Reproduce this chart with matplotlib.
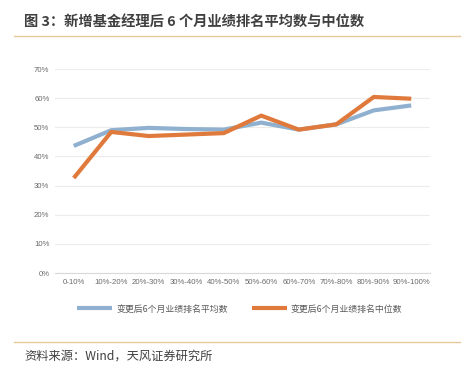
import matplotlib.pyplot as plt
from matplotlib.ticker import FuncFormatter

plt.rcParams['font.family'] = ['Noto Sans CJK SC', 'DejaVu Sans']

# Data
categories = ['0-10%', '10%-20%', '20%-30%', '30%-40%', '40%-50%',
              '50%-60%', '60%-70%', '70%-80%', '80%-90%', '90%-100%']
mean_rank = [43.6, 49.0, 49.8, 49.4, 49.2, 51.6, 49.2, 51.0, 55.8, 57.5]
median_rank = [32.6, 48.4, 47.0, 47.5, 48.0, 54.0, 49.2, 51.0, 60.4, 59.8]
labels = ['变更后6个月业绩排名平均数', '变更后6个月业绩排名中位数']

fig = plt.figure(figsize=(4.68, 3.70), dpi=100)
ax = fig.add_axes([55 / 468, 1 - 273 / 370, 375 / 468, 204 / 370])

x = range(len(categories))
ax.plot(x, mean_rank, color='#8fb1cf', lw=3, label=labels[0], solid_capstyle='butt')
ax.plot(x, median_rank, color='#e07a3c', lw=3, label=labels[1], solid_capstyle='butt')

ax.set_xlim(-0.5, 9.5)
ax.set_ylim(0, 70)
ax.set_yticks(range(0, 71, 10))
ax.yaxis.set_major_formatter(FuncFormatter(lambda v, p: f'{int(v)}%'))
ax.set_xticks(list(x))
ax.set_xticklabels(categories)
ax.tick_params(axis='both', length=0, labelsize=5.6, colors='#6a6a6a', pad=4)
for t in ax.get_xticklabels() + ax.get_yticklabels():
    t.set_family('Liberation Sans')
ax.grid(axis='y', color='#ececec', lw=0.8)
ax.set_axisbelow(True)
for s in ['top', 'right', 'left']:
    ax.spines[s].set_visible(False)
ax.spines['bottom'].set_color('#d9d9d9')

fig.legend(loc='center', bbox_to_anchor=(0.512, 1 - 309 / 370), ncol=2, frameon=False,
           fontsize=6.4, handlelength=3.95, handletextpad=0.45, columnspacing=2.7,
           labelcolor='#595959')

# title and source with rules
fig.text(24 / 468, 1 - 22 / 370, '图 3：新增基金经理后 6 个月业绩排名平均数与中位数',
         fontsize=10.3, fontweight='bold', color='#404040', va='center')
fig.add_artist(plt.Line2D([14 / 468, 460 / 468], [1 - 36 / 370] * 2, color='#e6c89a', lw=1))
fig.add_artist(plt.Line2D([14 / 468, 460 / 468], [1 - 342 / 370] * 2, color='#e6c89a', lw=1))
fig.text(24 / 468, 1 - 356 / 370, '资料来源：Wind，天风证券研究所',
         fontsize=8.8, color='#404040', va='center')

plt.savefig('out.png', dpi=100)
